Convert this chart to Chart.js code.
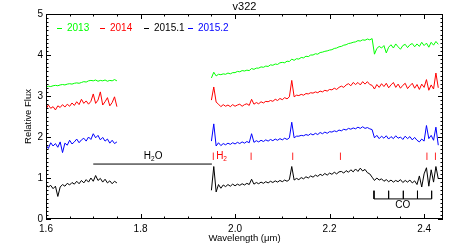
<!DOCTYPE html>
<html>
<head>
<meta charset="utf-8">
<script src="https://cdn.jsdelivr.net/npm/chart.js@4.4.0/dist/chart.umd.min.js"></script>
<style>
  body { margin: 0; background: #fff; }
  canvas { display: block; }
</style>
</head>
<body>
<canvas id="spectraChart" width="457" height="249"></canvas>
<script>
// Wavelength grids (micron) for the H band and K band pieces
const waveH = [
  1.600, 1.605, 1.610, 1.615, 1.620, 1.625, 1.630, 1.635, 1.640, 1.645,
  1.650, 1.655, 1.660, 1.665, 1.670, 1.675, 1.680, 1.685, 1.690, 1.695,
  1.700, 1.705, 1.710, 1.715, 1.720, 1.725, 1.730, 1.735, 1.740, 1.745,
  1.750
];
const waveK = [
  1.950, 1.955, 1.960, 1.965, 1.970, 1.975, 1.980, 1.985, 1.990, 1.995,
  2.000, 2.005, 2.010, 2.015, 2.020, 2.025, 2.030, 2.035, 2.040, 2.045,
  2.050, 2.055, 2.060, 2.065, 2.070, 2.075, 2.080, 2.085, 2.090, 2.095,
  2.100, 2.105, 2.110, 2.115, 2.120, 2.125, 2.130, 2.135, 2.140, 2.145,
  2.150, 2.155, 2.160, 2.165, 2.170, 2.175, 2.180, 2.185, 2.190, 2.195,
  2.200, 2.205, 2.210, 2.215, 2.220, 2.225, 2.230, 2.235, 2.240, 2.245,
  2.250, 2.255, 2.260, 2.265, 2.270, 2.275, 2.280, 2.285, 2.290, 2.295,
  2.300, 2.305, 2.310, 2.315, 2.320, 2.325, 2.330, 2.335, 2.340, 2.345,
  2.350, 2.355, 2.360, 2.365, 2.370, 2.375, 2.380, 2.385, 2.390, 2.395,
  2.400, 2.405, 2.410, 2.415, 2.420, 2.425, 2.430
];

// 2013 (green)
const flux2013H = [
  3.22, 3.24, 3.23, 3.25, 3.26, 3.25, 3.27, 3.28, 3.27, 3.29,
  3.30, 3.29, 3.31, 3.32, 3.31, 3.33, 3.35, 3.34, 3.37, 3.38,
  3.37, 3.39, 3.36, 3.38, 3.37, 3.39, 3.36, 3.38, 3.37, 3.40,
  3.37
];
const flux2013K = [
  3.44, 3.58, 3.49, 3.53, 3.52, 3.54, 3.53, 3.56, 3.54, 3.57,
  3.57, 3.60, 3.59, 3.62, 3.61, 3.63, 3.62, 3.67, 3.65, 3.68,
  3.68, 3.71, 3.70, 3.73, 3.72, 3.76, 3.75, 3.78, 3.77, 3.81,
  3.82, 3.81, 3.85, 3.84, 3.90, 3.87, 3.91, 3.90, 3.94, 3.93,
  3.97, 3.96, 4.00, 4.00, 4.03, 4.02, 4.06, 4.07, 4.09, 4.10,
  4.12, 4.13, 4.16, 4.17, 4.20, 4.21, 4.24, 4.25, 4.28, 4.29,
  4.31, 4.32, 4.35, 4.34, 4.37, 4.36, 4.39, 4.37, 4.40, 4.02,
  4.16, 4.21, 4.17, 4.23, 4.05, 4.19, 4.25, 4.17, 4.27, 4.20,
  4.14, 4.23, 4.26, 4.18, 4.25, 4.28, 4.20, 4.27, 4.21, 4.31,
  4.23, 4.29, 4.19, 4.31, 4.24, 4.33, 4.26
];

// 2014 (red)
const flux2014H = [
  2.68, 2.78, 2.70, 2.74, 2.66, 2.76, 2.72, 2.79, 2.73, 2.80,
  2.75, 2.83, 2.77, 2.86, 2.79, 2.92, 2.82, 2.88, 2.80, 2.87,
  3.05, 2.82, 2.90, 3.10, 2.78, 2.86, 2.96, 2.76, 2.84, 2.98,
  2.74
];
const flux2014K = [
  2.90, 3.22, 2.85, 2.80, 2.74, 2.79, 2.75, 2.78, 2.74, 2.79,
  2.75, 2.78, 2.80, 2.75, 2.79, 2.81, 2.77, 2.92, 2.80, 2.84,
  2.81, 2.86, 2.83, 2.87, 2.86, 2.89, 2.87, 2.92, 2.89, 2.94,
  2.91, 2.96, 2.93, 2.98, 3.38, 2.98, 3.02, 3.01, 3.04, 3.02,
  3.06, 3.05, 3.08, 3.07, 3.10, 3.08, 3.12, 3.10, 3.14, 3.12,
  3.16, 3.15, 3.19, 3.16, 3.21, 3.24, 3.21, 3.27, 3.30, 3.25,
  3.33, 3.28, 3.33, 3.27, 3.35, 3.29, 3.35, 3.28, 3.26, 3.17,
  3.28, 3.21, 3.30, 3.23, 3.31, 3.20, 3.27, 3.33, 3.21, 3.29,
  3.19, 3.26, 3.31, 3.18, 3.25, 3.31, 3.19, 3.28, 3.16, 3.29,
  3.21, 3.40, 3.14, 3.27, 3.17, 3.56, 3.20
];

// 2015.1 (black)
const flux20151H = [
  0.84, 0.78, 0.82, 0.74, 0.80, 0.55, 0.78, 0.84, 0.80, 0.87,
  0.83, 0.89, 0.85, 0.92, 0.86, 0.94, 0.88, 0.96, 0.90, 1.00,
  0.92, 1.06, 0.94, 0.99, 0.90, 0.97, 0.88, 0.93, 0.86, 0.92,
  0.88
];
const flux20151K = [
  0.70, 1.28, 0.66, 0.84, 0.75, 0.83, 0.79, 0.84, 0.80, 0.85,
  0.81, 0.85, 0.82, 0.86, 0.83, 0.87, 0.84, 0.97, 0.85, 0.89,
  0.86, 0.90, 0.87, 0.91, 0.88, 0.92, 0.89, 0.93, 0.90, 0.94,
  0.91, 0.95, 0.92, 0.96, 1.28, 0.95, 0.99, 0.96, 1.01, 0.98,
  1.03, 1.00, 1.05, 1.02, 1.07, 1.04, 1.09, 1.06, 1.11, 1.07,
  1.12, 1.09, 1.14, 1.10, 1.15, 1.16, 1.12, 1.18, 1.14, 1.20,
  1.15, 1.22, 1.16, 1.24, 1.17, 1.21, 1.13, 1.10, 1.02, 0.94,
  1.00, 0.95, 0.98, 0.92, 0.96, 0.91, 0.95, 0.90, 0.94, 0.91,
  0.96, 0.89, 0.94, 0.90, 0.95, 0.88, 0.93, 0.84, 1.05, 0.78,
  1.10, 1.25, 0.80, 1.20, 0.90, 1.28, 0.98
];

// 2015.2 (blue)
const flux20152H = [
  1.80, 1.72, 1.86, 1.78, 1.84, 1.75, 1.88, 1.62, 1.85, 1.80,
  1.92, 1.83, 1.88, 1.95, 1.86, 1.93, 1.97, 1.90, 2.00, 1.94,
  2.08, 1.98, 2.04, 1.93, 1.99, 1.90, 1.95, 1.85, 1.92, 1.84,
  1.88
];
const flux20152K = [
  1.90, 2.32, 1.78, 1.86, 1.79, 1.84, 1.81, 1.85, 1.82, 1.86,
  1.83, 1.87, 1.84, 1.88, 1.85, 1.89, 1.86, 2.08, 1.87, 1.91,
  1.88, 1.92, 1.89, 1.93, 1.90, 1.94, 1.91, 1.95, 1.92, 1.96,
  1.93, 1.97, 1.94, 1.98, 2.36, 1.98, 2.02, 2.02, 2.04, 2.03,
  2.06, 2.04, 2.08, 2.05, 2.09, 2.06, 2.11, 2.08, 2.12, 2.09,
  2.13, 2.12, 2.15, 2.13, 2.17, 2.15, 2.19, 2.17, 2.21, 2.19,
  2.22, 2.20, 2.24, 2.21, 2.25, 2.21, 2.23, 2.20, 2.18, 1.98,
  2.04, 1.96, 2.02, 1.97, 2.03, 1.95, 2.01, 1.96, 2.03, 1.97,
  2.00, 1.94, 2.02, 1.96, 2.01, 1.93, 1.99, 1.92, 1.88, 1.95,
  1.90, 2.28, 1.96, 2.04, 1.92, 2.24, 1.80
];

// Feature markers
const h2oRange = [1.70, 1.951];
const h2oLevel = 1.34;
const h2Lines = [1.954, 2.034, 2.122, 2.223, 2.406, 2.424];
const h2Range = [1.44, 1.62];
const coHeads = [2.294, 2.325, 2.356, 2.386, 2.416];
const coRange = [0.49, 0.69];

const FONT = "'Liberation Sans', Arial, sans-serif";

function spectrum(fluxH, fluxK) {
  const pts = waveH.map((w, i) => ({x: w, y: fluxH[i]}));
  pts.push({x: 1.85, y: null}); // gap between the bands
  waveK.forEach((w, i) => pts.push({x: w, y: fluxK[i]}));
  return pts;
}

function lineSet(data, color) {
  return {data: data, borderColor: color, borderWidth: 1, pointRadius: 0,
          showLine: true, spanGaps: false, fill: false};
}

// H2 ticks, separated by nulls
const h2Data = [];
h2Lines.forEach(w => {
  h2Data.push({x: w, y: h2Range[0]}, {x: w, y: h2Range[1]}, {x: w, y: null});
});

// CO bracket: base line with upward ticks at each bandhead
const coData = [];
coHeads.forEach((w, i) => {
  if (i > 0) coData.push({x: w, y: coRange[0]});
  coData.push({x: w, y: coRange[1]}, {x: w, y: coRange[0]});
});

const series = [
  {label: '2013', color: 'rgb(0,255,0)', data: spectrum(flux2013H, flux2013K)},
  {label: '2014', color: 'rgb(255,0,0)', data: spectrum(flux2014H, flux2014K)},
  {label: '2015.1', color: 'rgb(0,0,0)', data: spectrum(flux20151H, flux20151K)},
  {label: '2015.2', color: 'rgb(0,0,255)', data: spectrum(flux20152H, flux20152K)}
];

// frame, inward ticks, legend and labels (IDL style)
const decorPlugin = {
  id: 'decor',
  afterDatasetsDraw(chart) {
    const {ctx, chartArea: a, scales: {x, y}} = chart;
    ctx.save();
    ctx.strokeStyle = '#000';
    ctx.lineWidth = 1;
    ctx.strokeRect(a.left + 0.5, a.top + 0.5, a.right - a.left - 1, a.bottom - a.top - 1);

    ctx.beginPath();
    for (let k = 0; k <= 16; k++) {
      const w = 1.6 + k * 0.05;
      const px = Math.round(x.getPixelForValue(w)) + 0.5;
      const len = (k % 4 === 0) ? 5 : 2.5;
      ctx.moveTo(px, a.bottom); ctx.lineTo(px, a.bottom - len);
      ctx.moveTo(px, a.top); ctx.lineTo(px, a.top + len);
    }
    for (let k = 0; k <= 50; k++) {
      const py = Math.round(y.getPixelForValue(k * 0.1)) + 0.5;
      const len = (k % 10 === 0) ? 5 : 2.5;
      ctx.moveTo(a.left, py); ctx.lineTo(a.left + len, py);
      ctx.moveTo(a.right, py); ctx.lineTo(a.right - len, py);
    }
    ctx.stroke();

    // legend
    ctx.font = '10px ' + FONT;
    ctx.textBaseline = 'middle';
    ctx.textAlign = 'left';
    const legX = [57, 100, 144, 188];
    series.forEach((s, i) => {
      const lx = legX[i];
      ctx.strokeStyle = s.color;
      ctx.beginPath();
      ctx.moveTo(lx, a.top + 14.5); ctx.lineTo(lx + 5, a.top + 14.5);
      ctx.stroke();
      ctx.fillStyle = s.color;
      ctx.fillText(s.label, lx + 10, a.top + 14);
    });

    // labels with subscripts
    const sub = (txt, sx, sy, color) => {
      ctx.fillStyle = color;
      let cx = sx;
      txt.forEach(part => {
        if (part.sub) {
          ctx.font = '6.5px ' + FONT;
          ctx.fillText(part.t, cx, sy + 3);
        } else {
          ctx.font = '10px ' + FONT;
          ctx.fillText(part.t, cx, sy);
        }
        cx += ctx.measureText(part.t).width;
      });
    };
    sub([{t: 'H'}, {t: '2', sub: true}, {t: 'O'}], x.getPixelForValue(1.807), y.getPixelForValue(1.52), '#000');
    sub([{t: 'H'}, {t: '2', sub: true}], x.getPixelForValue(1.96), y.getPixelForValue(1.52), 'rgb(255,0,0)');

    ctx.fillStyle = '#000';
    ctx.font = '10px ' + FONT;
    ctx.textAlign = 'center';
    ctx.fillText('CO', x.getPixelForValue(2.355), y.getPixelForValue(0.34));

    // title and axis titles
    ctx.font = '11px ' + FONT;
    ctx.fillText('v322', (a.left + a.right) / 2, 7);
    ctx.font = '9.5px ' + FONT;
    ctx.fillText('Wavelength (\u03bcm)', (a.left + a.right) / 2, 238);
    ctx.translate(28, (a.top + a.bottom) / 2);
    ctx.rotate(-Math.PI / 2);
    ctx.fillText('Relative Flux', 0, 0);
    ctx.restore();
  }
};

const datasets = series.map(s => lineSet(s.data, s.color));
datasets.push(lineSet([{x: h2oRange[0], y: h2oLevel}, {x: h2oRange[1], y: h2oLevel}], '#000'));
datasets.push(lineSet(h2Data, 'rgb(255,40,40)'));
datasets.push(lineSet(coData, '#000'));

new Chart(document.getElementById('spectraChart'), {
  type: 'scatter',
  data: {datasets: datasets},
  options: {
    responsive: false,
    animation: false,
    layout: {padding: {top: 14, right: 14, left: 0, bottom: 0}},
    plugins: {legend: {display: false}, tooltip: {enabled: false}},
    scales: {
      x: {
        type: 'linear', min: 1.6, max: 2.44,
        grid: {display: false, drawTicks: false},
        border: {display: false},
        ticks: {stepSize: 0.2, includeBounds: false, padding: 4, color: '#000',
                font: {family: FONT, size: 10},
                callback: v => v.toFixed(1)},
        afterFit: s => { s.height = 30; }
      },
      y: {
        type: 'linear', min: 0, max: 5,
        grid: {display: false, drawTicks: false},
        border: {display: false},
        ticks: {stepSize: 1, padding: 3, color: '#000',
                font: {family: FONT, size: 10},
                callback: v => v.toFixed(0)},
        afterFit: s => { s.width = 46; }
      }
    }
  },
  plugins: [decorPlugin]
});
</script>
</body>
</html>
